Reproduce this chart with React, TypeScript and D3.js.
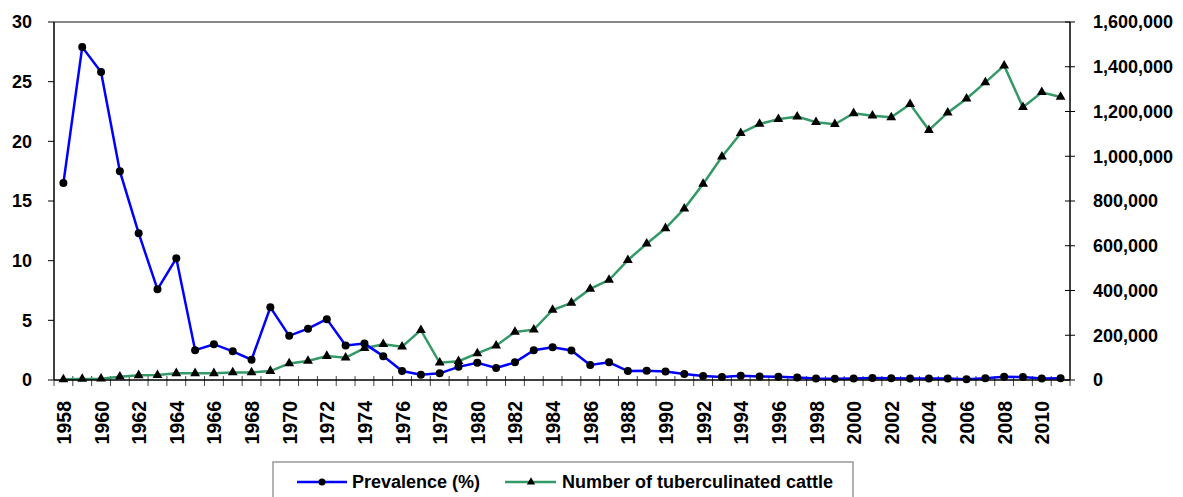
import React from 'react';
import * as d3 from 'd3';

const years = d3.range(1958, 2012);

// prevalence (%) per year
const prevalence = [
  16.5, 27.9, 25.8, 17.5, 12.3, 7.6, 10.2, 2.5, 3.0, 2.4,
  1.7, 6.1, 3.7, 4.3, 5.1, 2.9, 3.05, 2.0, 0.75, 0.45,
  0.56, 1.1, 1.45, 1.0, 1.48, 2.5, 2.74, 2.48, 1.26, 1.48,
  0.75, 0.78, 0.72, 0.5, 0.34, 0.25, 0.36, 0.3, 0.28, 0.2,
  0.13, 0.1, 0.13, 0.17, 0.15, 0.13, 0.12, 0.12, 0.07, 0.15,
  0.28, 0.25, 0.12, 0.15,
];

// number of tuberculinated cattle per year
const cattle = [
  3000, 4500, 6000, 15000, 21000, 22000, 30000, 30000, 30000, 34000,
  34000, 40000, 74000, 85000, 107000, 100000, 142000, 160000, 149000, 223000,
  77000, 84000, 119000, 153000, 215000, 225000, 313000, 345000, 407000, 447000,
  536000, 609000, 678000, 766000, 876000, 998000, 1103000, 1144000, 1166000, 1177000,
  1152000, 1143000, 1192000, 1181000, 1174000, 1233000, 1117000, 1195000, 1257000, 1330000,
  1405000, 1219000, 1286000, 1265000,
];

const leftTicks = [0, 5, 10, 15, 20, 25, 30];
const rightTicks = [0, 200000, 400000, 600000, 800000, 1000000, 1200000, 1400000, 1600000];
const seriesNames = ['Prevalence (%)', 'Number of tuberculinated cattle'];

const W = 1183;
const H = 497;
const left = 54, right = 1070, top = 22, bottom = 380;
const font = '"Liberation Sans", Arial, sans-serif';
const blue = '#0000ff';
const green = '#339966';

const App = () => {
  const x = d3.scaleBand<number>().domain(years).range([left, right]);
  const cx = (yr: number) => (x(yr) as number) + x.bandwidth() / 2;
  const yL = d3.scaleLinear().domain([0, 30]).range([bottom, top]);
  const yR = d3.scaleLinear().domain([0, 1600000]).range([bottom, top]);
  const fmt = d3.format(',');

  const linePrev = d3.line<number>().x((d, i) => cx(years[i])).y(d => yL(d));
  const lineCattle = d3.line<number>().x((d, i) => cx(years[i])).y(d => yR(d));
  const tri = d3.symbol().type(d3.symbolTriangle).size(42)();
  const boundaries = years.map(yr => x(yr) as number).concat([right]);

  return (
    <svg width={W} height={H} style={{ position: 'absolute', left: 0, top: 0, background: '#fff' }}
      fontFamily={font} fontWeight="bold" fontSize={18}>
      {/* frame */}
      <line x1={left} x2={right} y1={top} y2={top} stroke="#888" strokeWidth={2} />
      <line x1={left} x2={left} y1={top} y2={bottom} stroke="#000" strokeWidth={1.5} />
      <line x1={right} x2={right} y1={top} y2={bottom} stroke="#000" strokeWidth={1.5} />

      {/* left axis */}
      {leftTicks.map(t => (
        <g key={'l' + t}>
          <line x1={left - 6} x2={left} y1={yL(t)} y2={yL(t)} stroke="#000" />
          <text x={32} y={yL(t)} dy="0.35em" textAnchor="end">{t}</text>
        </g>
      ))}

      {/* right axis */}
      {rightTicks.map(t => (
        <g key={'r' + t}>
          <line x1={right - 5} x2={right + 5} y1={yR(t)} y2={yR(t)} stroke="#000" />
          <text x={1093} y={yR(t)} dy="0.35em">{fmt(t)}</text>
        </g>
      ))}

      {/* x axis */}
      {boundaries.map((b, i) => (
        <line key={'xt' + i} x1={b} x2={b} y1={bottom - 4} y2={bottom + 6} stroke="#444" />
      ))}
      {years.filter((yr, i) => i % 2 === 0).map(yr => (
        <text key={'xl' + yr} transform={`translate(${cx(yr) + 0.5},401) rotate(-90)`}
          textAnchor="end" dy="0.36em" fontSize={19.5}>{yr}</text>
      ))}

      {/* series */}
      <path d={lineCattle(cattle) || ''} fill="none" stroke={green} strokeWidth={2.5} />
      <path d={linePrev(prevalence) || ''} fill="none" stroke={blue} strokeWidth={2.5} />
      {cattle.map((v, i) => (
        <path key={'c' + i} d={tri || ''} transform={`translate(${cx(years[i])},${yR(v)})`} fill="#000" />
      ))}
      {prevalence.map((v, i) => (
        <circle key={'p' + i} cx={cx(years[i])} cy={yL(v)} r={4} fill="#000" />
      ))}
      <line x1={left} x2={right} y1={bottom} y2={bottom} stroke="#000" strokeWidth={1.5} />

      {/* legend */}
      <rect x={273} y={462} width={580} height={60} fill="#fff" stroke="#999" strokeWidth={1.5} />
      <line x1={297} x2={347} y1={482} y2={482} stroke={blue} strokeWidth={2.5} />
      <circle cx={322} cy={482} r={3.5} fill="#000" />
      <text x={352} y={482} dy="0.35em">{seriesNames[0]}</text>
      <line x1={505} x2={556} y1={482} y2={482} stroke={green} strokeWidth={2.5} />
      <path d={d3.symbol().type(d3.symbolTriangle).size(30)() || ''} transform="translate(531,482)" fill="#000" />
      <text x={562} y={482} dy="0.35em">{seriesNames[1]}</text>
    </svg>
  );
};

export default App;
